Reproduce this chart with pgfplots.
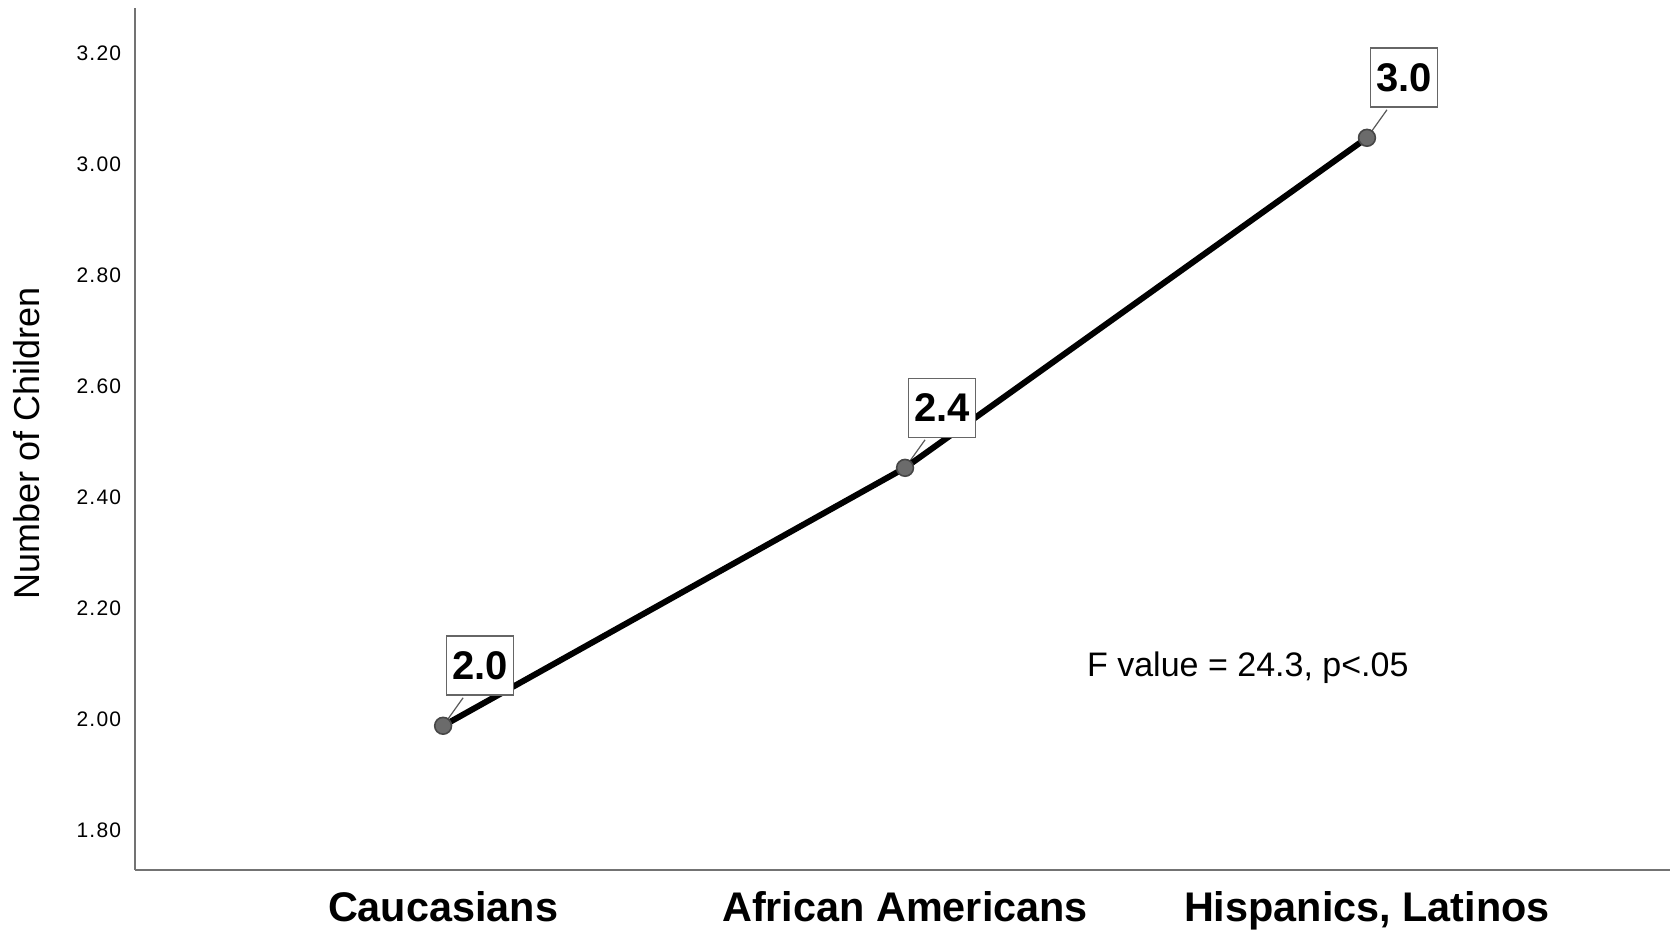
\documentclass[border=0pt]{standalone}
\usepackage{pgfplots}
\pgfplotsset{compat=1.18}
\usepackage{fontspec}
\setmainfont{Liberation Sans}
\newfontfamily\tickfont[LetterSpace=6]{Liberation Sans}
\usetikzlibrary{calc}

\begin{document}
\begin{tikzpicture}
\begin{axis}[
  width=767.5pt, height=431pt, scale only axis,
  xmin=-0.667, xmax=2.656, ymin=1.728, ymax=3.282,
  axis x line=bottom, axis y line=left,
  axis line style={-, draw=black!55, line width=1pt},
  xtick={0,1,2},
  xticklabels={Caucasians, African Americans, {Hispanics, Latinos}},
  ytick={1.8,2,2.2,2.4,2.6,2.8,3,3.2},
  major tick length=0pt,
  /pgf/number format/assume math mode=true,
  yticklabel style={font=\tickfont\fontsize{10.5}{12}\selectfont, anchor=east, inner sep=0pt, xshift=-6.7pt,
    /pgf/number format/fixed, /pgf/number format/fixed zerofill, /pgf/number format/precision=2},
  xticklabel style={font=\bfseries\fontsize{20.7}{24}\selectfont, anchor=base, inner sep=0pt, yshift=-25.5pt},
  clip=false,
]
\coordinate (bl) at (rel axis cs:0,0);
\coordinate (tr) at (rel axis cs:1,1);
% leader lines
\addplot[quiver={u=0.0433, v=0.0505}, draw=black!65, line width=0.6pt]
  coordinates {(0,1.988) (1,2.453) (2,3.048)};
% main line with labels
\addplot[black, line width=3pt, mark=*, mark size=4.2pt,
  mark options={fill=black!58, draw=black!72, line width=0.8pt, solid},
  nodes near coords, point meta=explicit symbolic,
  every node near coord/.style={anchor=center, xshift=18.5pt, yshift=30pt,
    draw=black!60, line width=0.8pt, fill=white, text=black,
    minimum width=33.5pt, minimum height=29.5pt, inner sep=0pt,
    font=\bfseries\fontsize{20}{24}\selectfont}]
  coordinates {(0,1.988) [2.0] (1,2.453) [2.4] (2,3.048) [3.0]};
\node[font=\fontsize{17}{20}\selectfont] at (axis cs:1.742,2.092) {F value = 24.3, p<.05};
\end{axis}
\node[rotate=90, font=\fontsize{18}{21}\selectfont] at ($(bl)!0.495!(bl|-tr) + (-54pt,0)$) {Number of Children};
\pgfresetboundingbox
\path ($(bl)+(-67.5pt,-33.5pt)$) rectangle ($(tr)+(0,4pt)$);
\end{tikzpicture}
\end{document}
